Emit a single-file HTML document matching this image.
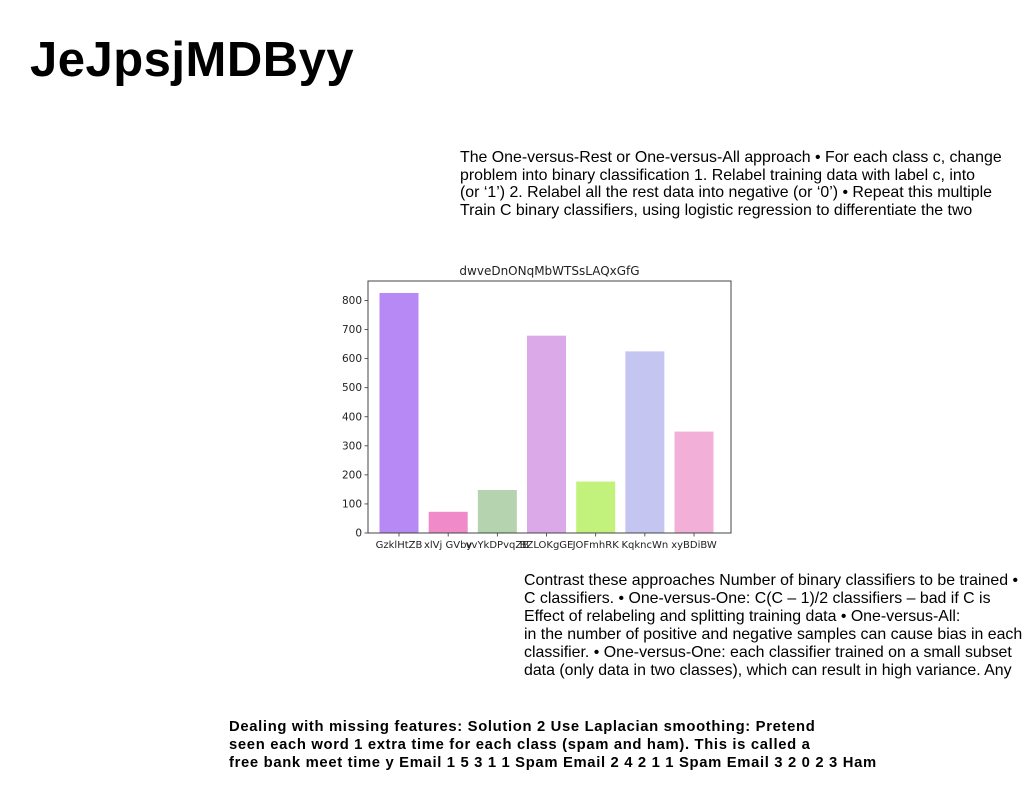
<!DOCTYPE html>
<html><head><meta charset="utf-8"><style>
body{margin:0;width:1024px;height:788px;background:#fff;position:relative;overflow:hidden;font-family:"Liberation Sans",sans-serif;color:#000}
.t{position:absolute;white-space:nowrap}
#title{left:30px;top:32px;font-size:49px;font-weight:900;letter-spacing:0.5px}
#p1{left:460px;top:149px;font-size:15.9px;line-height:17.7px}
#p2{left:524px;top:572px;font-size:15.9px;line-height:18px}
#p3{left:229px;top:718px;font-size:14.8px;font-weight:bold;line-height:18px;letter-spacing:0.67px}
svg{position:absolute;left:0;top:0}
</style></head><body>
<div class="t" id="title">JeJpsjMDByy</div>
<div class="t" id="p1">The One-versus-Rest or One-versus-All approach • For each class c, change<br>problem into binary classification 1. Relabel training data with label c, into<br>(or ‘1’) 2. Relabel all the rest data into negative (or ‘0’) • Repeat this multiple<br>Train C binary classifiers, using logistic regression to differentiate the two</div>
<svg width="1024" height="788" id="chart"></svg>
<div class="t" id="p2">Contrast these approaches Number of binary classifiers to be trained •<br>C classifiers. • One-versus-One: C(C – 1)/2 classifiers – bad if C is<br>Effect of relabeling and splitting training data • One-versus-All:<br>in the number of positive and negative samples can cause bias in each<br>classifier. • One-versus-One: each classifier trained on a small subset<br>data (only data in two classes), which can result in high variance. Any</div>
<div class="t" id="p3">Dealing with missing features: Solution 2 Use Laplacian smoothing: Pretend<br>seen each word 1 extra time for each class (spam and ham). This is called a<br>free bank meet time y Email 1 5 3 1 1 Spam Email 2 4 2 1 1 Spam Email 3 2 0 2 3 Ham</div>
<script>
const categories=["GzklHtZB","xlVj GVby","vvYkDPvqZB","BZLOKgGE","JOFmhRK","KqkncWn","xyBDiBW"];
const values=[826,73,148,679,177,625,349];
const colors=["#b689f5","#f08ac8","#b4d3ae","#dba8e8","#c3f27c","#c5c5f2","#f2b0d8"];
const yTicks=[0,100,200,300,400,500,600,700,800];
const chartTitle="dwveDnONqMbWTSsLAQxGfG";
const NS="http://www.w3.org/2000/svg";
const svg=document.getElementById('chart');
const L=368,R=731,T=281,B=533;
const y=v=>B-v*0.2906;
const x=i=>399+i*49.17;
const bw=39;
function mk(tag,attrs,parent){const e=document.createElementNS(NS,tag);for(const k in attrs)e.setAttribute(k,attrs[k]);(parent||svg).appendChild(e);return e;}
values.forEach((v,i)=>{
  const r=mk('rect',{x:x(i)-bw/2,y:y(v),width:bw,height:B-y(v),fill:colors[i]});
  
  
  const t=mk('text',{x:x(i),y:B+15,'font-size':10,'text-anchor':'middle','font-family':'DejaVu Sans, sans-serif',fill:'#222'});
  t.textContent=categories[i];
  
  
  mk('line',{x1:x(i),x2:x(i),y1:B,y2:B+3.5,stroke:'#333','stroke-width':0.8});
});
yTicks.forEach(v=>{
  mk('line',{x1:L-3.5,x2:L,y1:y(v),y2:y(v),stroke:'#333','stroke-width':0.8});
  const t=mk('text',{x:L-6,y:y(v)+3.5,'font-size':10.5,'text-anchor':'end','font-family':'DejaVu Sans, sans-serif',fill:'#222'});
  t.textContent=v;
  
  
});
const f=mk('rect',{x:L,y:T,width:R-L,height:B-T,fill:'none',stroke:'#444','stroke-width':1});


const ct=mk('text',{x:(L+R)/2,y:T-6,'font-size':12,'text-anchor':'middle','font-family':'DejaVu Sans, sans-serif',fill:'#222'});
ct.textContent=chartTitle;


</script>
</body></html>
